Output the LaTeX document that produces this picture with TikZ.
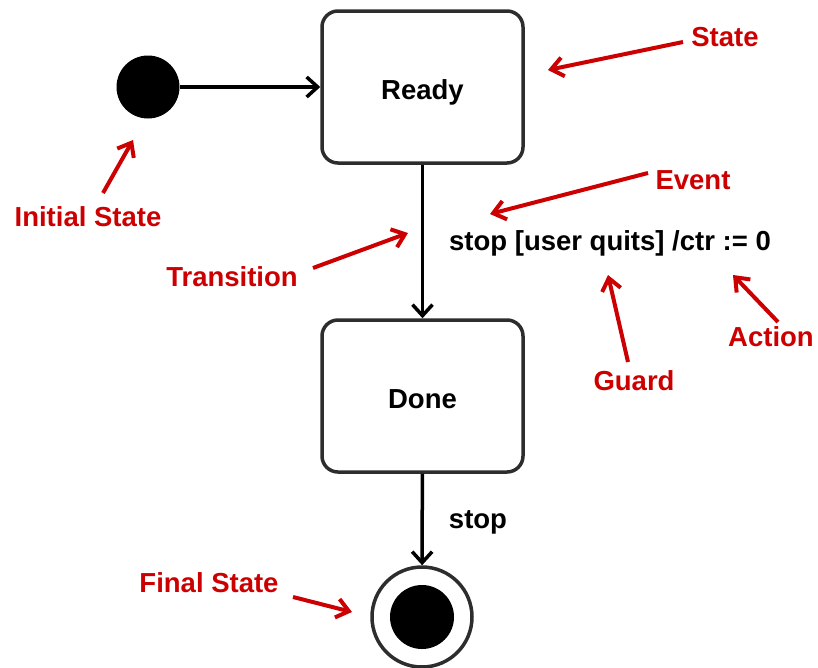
\documentclass[tikz,border=0pt]{standalone}
\usepackage{fontspec}
\setmainfont{Liberation Sans}
\usetikzlibrary{arrows.meta}
\definecolor{annot}{RGB}{204,0,0}
\definecolor{edgegray}{RGB}{45,45,45}
\begin{document}
\begin{tikzpicture}[x=1pt,y=-1pt,
  statebox/.style={draw=edgegray, line width=3.5pt, rounded corners=16pt,
    minimum width=201pt, minimum height=152pt, inner sep=0pt,
    text height=24pt, text depth=0pt,
    font=\fontsize{27.5}{30}\selectfont\bfseries},
  initnode/.style={circle, fill=black, minimum size=63pt, inner sep=0pt},
  finalnode/.style={circle, draw=edgegray, line width=3.5pt, minimum size=100pt, inner sep=0pt},
  flow/.style={draw=black, line width=3.5pt, -{Straight Barb[length=11pt,width=20pt]}},
  txt/.style={font=\fontsize{27.5}{30}\selectfont\bfseries, inner sep=0pt},
  note/.style={text=annot, font=\fontsize{27.5}{30}\selectfont\bfseries, inner sep=0pt},
  pointer/.style={draw=annot, line width=4pt, -{Straight Barb[length=12pt,width=19pt]}}]
\useasboundingbox (0,0) rectangle (818,667);
% main states
\node[initnode] (init) at (148,87) {};
\node[statebox] (ready) at (422.5,87) {Ready};
\node[statebox] (done) at (422.5,396) {Done};
\node[finalnode] (fin) at (422,617) {};
\fill[black] (fin.center) circle (32);
% transitions
\draw[flow] (init) -- (ready);
\draw[flow] (ready) -- (done);
\draw[flow] (done) -- (fin);
\node[txt] (trlabel) at (610,243) {stop [user quits] /ctr := 0};
\node[txt] (stoplabel) at (478,522) {stop};
% annotations
\node[note] (nState) at (725,37) {State};
\node[note] (nEvent) at (693,180) {Event};
\node[note] (nInit) at (88,217) {Initial State};
\node[note] (nTrans) at (232,277) {Transition};
\node[note] (nGuard) at (634,381) {Guard};
\node[note] (nAction) at (771,337) {Action};
\node[note] (nFinal) at (209,583) {Final State};
\coordinate (tState) at (683,42);   \coordinate (hState) at (548,70);
\coordinate (tEvent) at (648,173);  \coordinate (hEvent) at (490,214);
\coordinate (tInit) at (103,193);   \coordinate (hInit) at (133,140);
\coordinate (tTrans) at (313,268);  \coordinate (hTrans) at (408,233);
\coordinate (tGuard) at (628,362);  \coordinate (hGuard) at (608,275);
\coordinate (tAction) at (778,322); \coordinate (hAction) at (733,275);
\coordinate (tFinal) at (293,597);  \coordinate (hFinal) at (352,612);
\draw[pointer] (tState) -- (hState);
\draw[pointer] (tEvent) -- (hEvent);
\draw[pointer] (tInit) -- (hInit);
\draw[pointer] (tTrans) -- (hTrans);
\draw[pointer] (tGuard) -- (hGuard);
\draw[pointer] (tAction) -- (hAction);
\draw[pointer] (tFinal) -- (hFinal);
\end{tikzpicture}
\end{document}
